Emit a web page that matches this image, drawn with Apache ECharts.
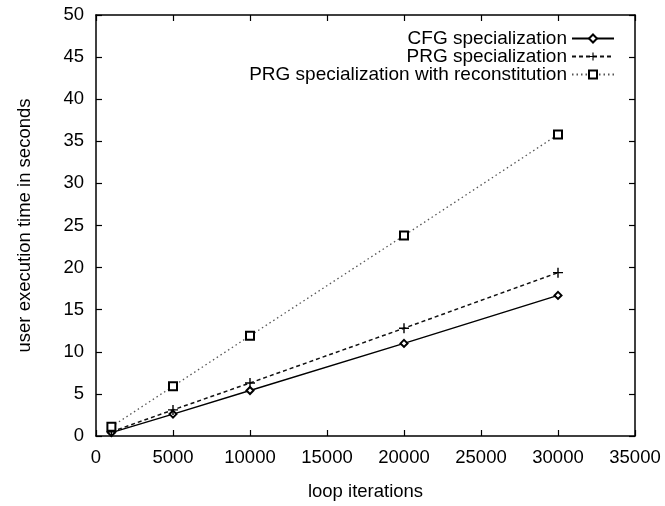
<!DOCTYPE html>
<html><head><meta charset="utf-8">
<script src="https://cdn.jsdelivr.net/npm/echarts@6/dist/echarts.min.js"></script>
<style>html,body{margin:0;padding:0;background:#fff}#c{width:665px;height:506px}</style>
</head><body><div id="c"></div>
<script>
const iterations = [1000, 5000, 10000, 20000, 30000];
const cfgSpec = [0.4, 2.6, 5.4, 11.0, 16.7];
const prgSpec = [0.5, 3.1, 6.3, 12.8, 19.4];
const prgRecon = [1.1, 5.9, 11.9, 23.8, 35.8];
const seriesNames = ['CFG specialization', 'PRG specialization', 'PRG specialization with reconstitution'];
const xTitle = 'loop iterations';
const yTitle = 'user execution time in seconds';

const pairs = v => iterations.map((x, i) => [x, v[i]]);
const font = 'Liberation Sans, Arial, Helvetica, sans-serif';
const chart = echarts.init(document.getElementById('c'), null, {renderer: 'canvas'});
const axisBase = {
  axisLine: {show: true, onZero: false, lineStyle: {color: '#000', width: 1.5}},
  axisTick: {show: true, inside: true, length: 6, lineStyle: {color: '#000', width: 1.2}},
  splitLine: {show: false}
};
chart.setOption({
  animation: false,
  backgroundColor: '#fff',
  textStyle: {fontFamily: font, color: '#000'},
  grid: {left: 96, right: 30, top: 15, bottom: 68, containLabel: false},
  legend: {
    orient: 'vertical', right: 45, top: 24, align: 'right',
    itemWidth: 42, itemHeight: 10, itemGap: -1,
    textStyle: {fontFamily: font, fontSize: 19, color: '#000', lineHeight: 18},
    data: seriesNames
  },
  xAxis: [
    Object.assign({type: 'value', min: 0, max: 35000, interval: 5000,
      name: xTitle, nameLocation: 'middle', nameGap: 46,
      nameTextStyle: {fontFamily: font, fontSize: 18.5, color: '#000'},
      axisLabel: {fontFamily: font, fontSize: 18.5, color: '#000', margin: 12,
        formatter: v => String(v)}}, axisBase),
    Object.assign({type: 'value', position: 'top', min: 0, max: 35000, interval: 5000,
      axisLabel: {show: false}}, axisBase)
  ],
  yAxis: [
    Object.assign({type: 'value', min: 0, max: 50, interval: 5,
      name: yTitle, nameLocation: 'middle', nameGap: 62,
      nameTextStyle: {fontFamily: font, fontSize: 18.5, color: '#000'},
      axisLabel: {fontFamily: font, fontSize: 18.5, color: '#000', margin: 12}}, axisBase),
    Object.assign({type: 'value', position: 'right', min: 0, max: 50, interval: 5,
      axisLabel: {show: false}}, axisBase)
  ],
  series: [
    {name: seriesNames[0], type: 'line', data: pairs(cfgSpec),
      symbol: 'emptyDiamond', symbolSize: 7,
      lineStyle: {color: '#000', width: 1.5, type: 'solid'},
      itemStyle: {color: '#000', borderColor: '#000', borderWidth: 1.5}},
    {name: seriesNames[1], type: 'line', data: pairs(prgSpec),
      symbol: 'path://M4.3,0h1.4v10h-1.4zM0,4.3h10v1.4h-10z', symbolSize: 10,
      lineStyle: {color: '#111', width: 1.5, type: [4, 3]},
      itemStyle: {color: '#000'}},
    {name: seriesNames[2], type: 'line', data: pairs(prgRecon),
      symbol: 'emptyRect', symbolSize: 8,
      lineStyle: {color: '#555', width: 1.3, type: [1.5, 3]},
      itemStyle: {color: '#000', borderColor: '#000', borderWidth: 1.3}}
  ]
});
</script></body></html>
